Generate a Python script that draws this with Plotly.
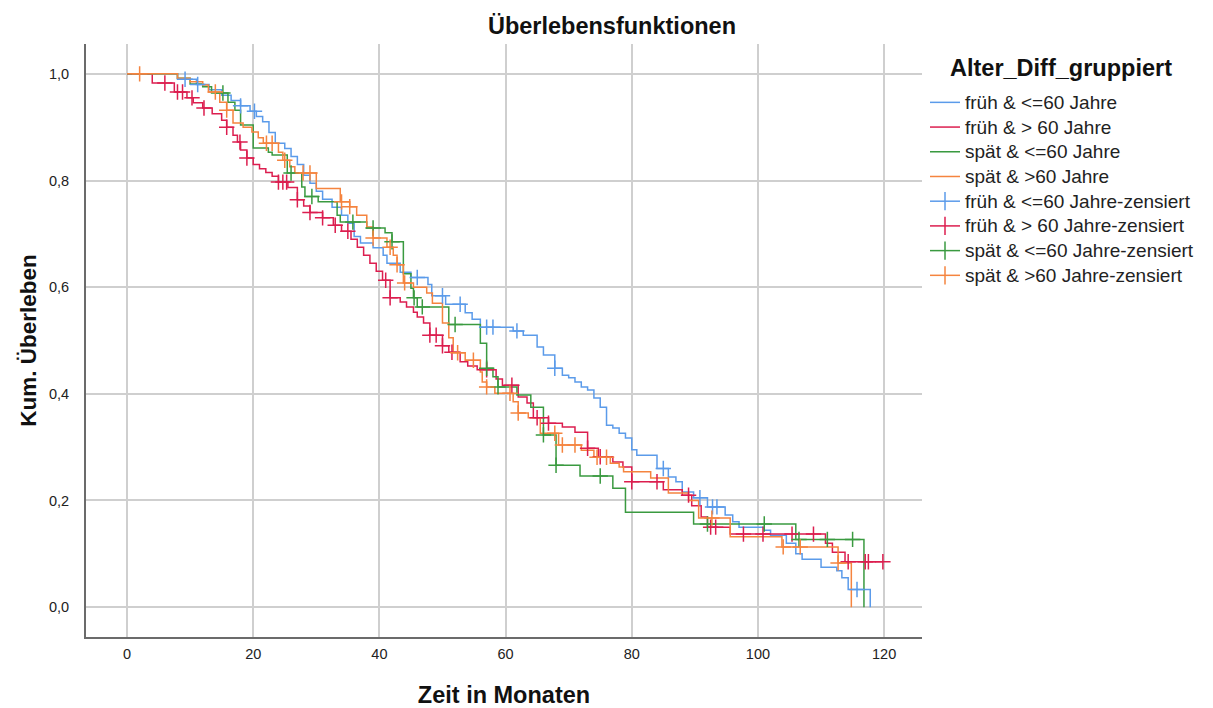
import numpy as np
import plotly.graph_objects as go

# ---------------- data ----------------
groups = ["früh & <=60 Jahre", "früh & > 60 Jahre", "spät & <=60 Jahre", "spät & >60 Jahre"]
colors = ["#5b9bea", "#dc1e4f", "#3a9a40", "#f5843f"]

blue_t = [0, 8, 11, 13, 15, 16.5, 18, 19.5, 20.5, 21.5, 22.5, 23.5, 25, 26, 27, 28, 29, 30, 31, 32.5,
          34, 35, 36, 37, 39, 40.6, 41.2, 43.3, 45, 47.7, 48.3, 50.5, 53.6, 54.7, 56, 61.2, 62.8, 65, 66, 67.8,
          69, 70, 71, 72, 73, 74, 75, 76, 77, 78, 79, 80, 80.8, 84, 85.8, 87, 88, 89.8, 92, 94.8,
          96, 97, 101, 102, 104.5, 106, 107, 110, 112.5, 113.3, 114.3, 117.8]
blue_s = [1.0, 0.99, 0.98, 0.97, 0.96, 0.95, 0.94, 0.93, 0.92, 0.91, 0.89, 0.87, 0.86, 0.845, 0.83, 0.81, 0.795, 0.78, 0.765, 0.75,
          0.735, 0.72, 0.695, 0.683, 0.674, 0.66, 0.645, 0.628, 0.618, 0.605, 0.584, 0.568, 0.552, 0.54, 0.525, 0.518, 0.51, 0.488, 0.473, 0.448,
          0.435, 0.43, 0.422, 0.413, 0.407, 0.392, 0.375, 0.341, 0.336, 0.326, 0.317, 0.295, 0.285, 0.26, 0.244, 0.235, 0.216, 0.205, 0.188, 0.173,
          0.16, 0.15, 0.144, 0.135, 0.12, 0.1, 0.09, 0.075, 0.068, 0.055, 0.033, 0.0]
blue_end = 117.8
blue_cens = [9.2, 11.2, 18, 20.2, 46, 50, 52.8, 57, 58, 61.8, 67.8, 85, 90.8, 92.8, 93.5, 115.7]

red_t = [0, 4, 7.5, 9.5, 10.5, 12, 13.5, 15, 15.8, 16.8, 17.5, 18, 19, 20, 21, 22, 23, 24, 25.5, 27,
         28, 29, 31, 32.7, 34, 35.5, 36.5, 37.5, 38.5, 39.5, 40.5, 41.7, 43.3, 44.3, 45.4, 46, 47, 48, 50, 51,
         52.8, 54, 55.5, 58.5, 59.5, 62, 63.4, 64.4, 66.8, 69, 71, 73, 74.7, 77, 78.6, 80, 85, 88, 89.5, 91,
         92, 95.6, 110.7, 111.8, 113.8]
red_s = [1.0, 0.983, 0.966, 0.955, 0.946, 0.936, 0.925, 0.913, 0.90, 0.885, 0.872, 0.857, 0.842, 0.83, 0.822, 0.815, 0.808, 0.797, 0.787, 0.764,
         0.752, 0.74, 0.73, 0.716, 0.705, 0.69, 0.675, 0.66, 0.645, 0.63, 0.613, 0.58, 0.572, 0.563, 0.553, 0.544, 0.533, 0.51, 0.49, 0.478,
         0.46, 0.452, 0.445, 0.428, 0.416, 0.394, 0.383, 0.355, 0.345, 0.338, 0.328, 0.298, 0.282, 0.272, 0.263, 0.235, 0.22, 0.21, 0.19, 0.169,
         0.15, 0.137, 0.12, 0.103, 0.085]
red_end = 119.8
red_cens = [6, 8, 8.8, 10.3, 12.2, 15.8, 17.9, 19, 24, 24.7, 25.3, 27, 29, 31, 33, 35, 41, 41.7, 48, 49,
            50, 51.5, 57, 61, 65, 66.8, 73, 75, 80, 84, 89, 92.5, 93.3, 97.7, 100.8, 105.4, 108.8, 114.3, 117, 117.5, 119.8]

green_t = [0, 8, 10, 12, 13.4, 16, 17.1, 18, 20, 22.4, 23, 25.4, 27.7, 28.2, 30.3, 33.3, 33.8, 38, 40.9, 42,
           43.8, 45, 45.4, 46, 51, 56, 57, 58, 58.8, 61.8, 64, 66, 68, 71.8, 77, 79, 89.8, 106, 116.8]
green_s = [1.0, 0.992, 0.981, 0.976, 0.964, 0.947, 0.932, 0.904, 0.861, 0.853, 0.848, 0.814, 0.788, 0.77, 0.76, 0.735, 0.722, 0.711, 0.702, 0.685,
           0.625, 0.598, 0.58, 0.563, 0.53, 0.495, 0.448, 0.432, 0.413, 0.398, 0.375, 0.323, 0.266, 0.246, 0.223, 0.178, 0.156, 0.127, 0.0]
green_end = 116.8
green_cens = [15.2, 26, 29.3, 35.8, 39, 42, 45.5, 46.8, 52, 57, 58.8, 66, 68, 75, 92, 101, 106.5, 111, 115]

orange_t = [0, 8, 10, 12, 12.9, 14.7, 15.8, 16.8, 18.4, 19.8, 20.8, 21.6, 24, 24.7, 25.8, 26.6, 30, 33.8, 35.3, 36.4,
            38, 39, 41.2, 42.2, 42.8, 43.8, 45.4, 47.5, 48.4, 50, 51, 51.7, 53.6, 56, 56.3, 57, 58.3, 61.2, 62, 63.6,
            65.5, 68.4, 72, 74, 76.6, 78, 78.7, 83, 85.8, 89, 90.6, 95.6, 103.8, 112.7, 114.8]
orange_s = [1.0, 0.992, 0.985, 0.979, 0.966, 0.947, 0.932, 0.908, 0.9, 0.891, 0.88, 0.87, 0.853, 0.838, 0.826, 0.814, 0.785, 0.76, 0.751, 0.735,
            0.713, 0.692, 0.675, 0.66, 0.642, 0.608, 0.6, 0.589, 0.57, 0.533, 0.505, 0.477, 0.463, 0.441, 0.422, 0.413, 0.401, 0.385, 0.364, 0.355,
            0.326, 0.304, 0.294, 0.281, 0.27, 0.263, 0.254, 0.242, 0.214, 0.2, 0.167, 0.132, 0.113, 0.083, 0.0]
orange_end = 114.8
orange_cens = [2, 14, 15.8, 22.1, 23, 25, 27.9, 29, 34, 35.3, 39, 41.7, 42.8, 44, 52.4, 54.9, 57, 60.7, 62, 67.8,
               69, 71, 74.5, 76, 92.7, 104, 106.7, 112.7]

x_ticks = [0, 20, 40, 60, 80, 100, 120]
y_ticks = [0.0, 0.2, 0.4, 0.6, 0.8, 1.0]

series = [
    (blue_t, blue_s, blue_end, blue_cens),
    (red_t, red_s, red_end, red_cens),
    (green_t, green_s, green_end, green_cens),
    (orange_t, orange_s, orange_end, orange_cens),
]

FONT = "Liberation Sans, Arial, sans-serif"
BIG = 23.5

# plot area in pixels: left 86, right 922, top 44, bottom 637
PL, PR, PT, PB = 86, 922, 44, 637


def px_x(p):
    return (p - PL) / (PR - PL)


def px_y(p):
    return (PB - p) / (PB - PT)


def leg(txt):
    return '<span style="font-size:19px">%s</span>' % txt


fig = go.Figure()

for i, (t, s, end, _) in enumerate(series):
    fig.add_trace(go.Scatter(
        x=list(t) + [end], y=list(s) + [s[-1]],
        mode="lines", line=dict(color=colors[i], width=1.5, shape="hv"),
        name=leg(groups[i]), hoverinfo="skip"))


def surv_at(t, s, ct):
    t = np.asarray(t); s = np.asarray(s)
    idx = np.searchsorted(t, np.asarray(ct), side="right") - 1
    return s[idx]


# censored marks on the curves (legend entries drawn separately below)
for i, (t, s, end, cens) in enumerate(series):
    fig.add_trace(go.Scatter(
        x=cens, y=surv_at(t, s, cens),
        mode="markers",
        marker=dict(symbol="cross-thin-open", size=11, color=colors[i],
                    line=dict(color=colors[i], width=1.5)),
        name=leg(groups[i] + "-zensiert"), legendgroup="c%d" % i,
        showlegend=False, hoverinfo="skip"))

# legend entries for censored series: horizontal line with a vertical tick
for i in range(4):
    fig.add_trace(go.Scatter(
        x=[None], y=[None], mode="lines+markers",
        line=dict(color=colors[i], width=1.5),
        marker=dict(symbol="line-ns-open", size=13, color=colors[i],
                    line=dict(color=colors[i], width=1.5)),
        name=leg(groups[i] + "-zensiert"), legendgroup="c%d" % i,
        showlegend=True, hoverinfo="skip"))

fig.update_layout(
    width=1213, height=708,
    margin=dict(l=PL, r=1213 - PR, t=PT, b=708 - PB, autoexpand=False),
    paper_bgcolor="white", plot_bgcolor="white",
    separators=",.",
    font=dict(family=FONT, color="#222222"),
    title=dict(text="<b>Überlebensfunktionen</b>", x=612 / 1213, xref="container", xanchor="center",
               y=1 - 26 / 708, yref="container", yanchor="middle",
               font=dict(size=BIG, family=FONT, color="#111111")),
    showlegend=True,
    legend=dict(
        x=px_x(925), xanchor="left", y=px_y(85), yanchor="top",
        font=dict(size=16.7, family=FONT, color="#222222"),
        tracegroupgap=0, itemwidth=30,
        bgcolor="rgba(0,0,0,0)"),
    annotations=[dict(
        text="<b>Alter_Diff_gruppiert</b>", xref="paper", yref="paper",
        x=px_x(1061), y=px_y(68), xanchor="center", yanchor="middle", showarrow=False,
        font=dict(size=BIG, family=FONT, color="#111111"))],
)

fig.update_xaxes(
    range=[-6.5, 126.0], tickvals=x_ticks, ticktext=[str(v) for v in x_ticks],
    automargin=False,
    showgrid=True, gridcolor="#cfcfcf", gridwidth=1.5, zeroline=False,
    showline=True, linecolor="#6b6b6b", linewidth=2,
    ticks="", ticklabelstandoff=3, tickfont=dict(size=14.5, family=FONT, color="#222222"),
    title=dict(text="<b>Zeit in Monaten</b>", standoff=29,
               font=dict(size=BIG, family=FONT, color="#111111")))
fig.update_yaxes(
    range=[-0.056, 1.056], tickvals=y_ticks, tickformat=".1f",
    automargin=False,
    showgrid=True, gridcolor="#cfcfcf", gridwidth=1.5, zeroline=False,
    showline=True, linecolor="#6b6b6b", linewidth=2,
    ticks="", ticklabelstandoff=12, tickfont=dict(size=14.5, family=FONT, color="#222222"),
    title=dict(text="<b>Kum. Überleben</b>", standoff=6,
               font=dict(size=22.5, family=FONT, color="#111111")))

fig.write_html("out.html")
